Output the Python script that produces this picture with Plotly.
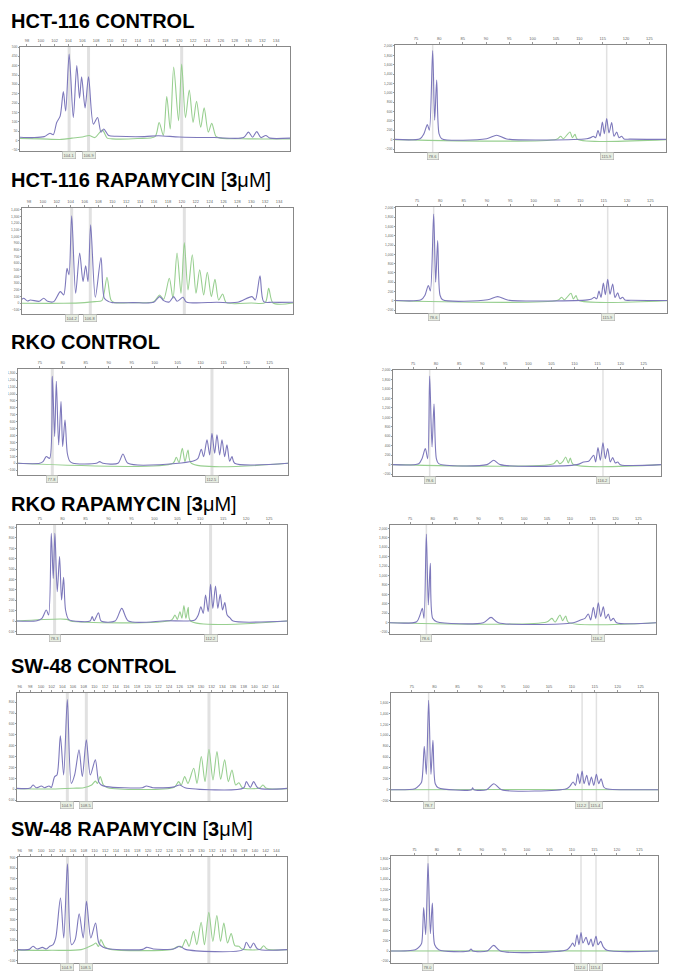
import plotly.graph_objects as go

# ---------------- DATA ----------------
titles = ["HCT-116 CONTROL", "HCT-116 RAPAMYCIN [3μM]", "RKO CONTROL",
          "RKO RAPAMYCIN [3μM]", "SW-48 CONTROL", "SW-48 RAPAMYCIN [3μM]"]

# x tick label sets
ticks_hct_x = list(range(98, 135, 2))
ticks_rko_x = [75, 80, 85, 90, 95, 100, 105, 110, 115, 120, 125]
ticks_sw_x = list(range(96, 145, 2))

# ---- Row 1 left: HCT-116 control ----
r1L_purple_x = [97, 99, 100.5, 101.33, 101.8, 102.3, 102.8, 103.26, 103.6, 104.1, 104.7, 105.2, 105.6, 105.9,
                106.4, 106.9, 107.6, 108.2, 108.7, 109.1, 109.8, 111, 115, 117, 120, 125, 129.3, 130.0, 130.6,
                131.2, 131.8, 132.5, 133.1, 136]
r1L_purple_y = [17, 15, 20, 38, 30, 96, 130, 261, 157, 462, 122, 400, 226, 340, 174, 340, 87, 122, 44, 61, 26,
                22, 20, 25, 18, 15, 15, 44, 17, 47, 15, 26, 12, 12]
r1L_green_x = [97, 100, 103, 104.5, 106, 107, 107.8, 108.9, 109.6, 110.3, 114, 116.5, 117.1, 117.7, 118.2, 118.7,
               119.2, 119.9, 120.35, 120.9, 121.45, 122.0, 122.5, 123.1, 123.6, 124.2, 124.7, 125.3, 125.9, 130, 136]
r1L_green_y = [10, 8, 5, 12, 18, 26, 15, 55, 12, 8, 10, 20, 96, 26, 235, 61, 392, 105, 409, 122, 270, 96, 209,
               70, 174, 44, 91, 21, 12, 8, 8]
r1L_markers = [104.1, 106.9, 120.35]
r1L_boxed = [104.1, 106.9]

# ---- Row 1 right ----
r1R_purple_x = [70.5, 75.86, 76.71, 77.43, 77.86, 78.57, 79.0, 79.43, 79.93, 80.5, 90.14, 92.29, 94.43, 111.57,
                112.43, 113.0, 113.5, 114.0, 114.43, 114.93, 115.36, 115.86, 116.36, 116.93, 117.43, 118.0, 118.5,
                119.07, 119.57, 120.86, 128.57]
r1R_purple_y = [5, 20, 128, 321, 200, 1900, 414, 1271, 128, 20, 20, 93, 15, 20, 43, 71, 43, 200, 71, 378, 129,
                450, 143, 364, 71, 164, 43, 71, 15, 10, 5]
r1R_green_x = [70.5, 105.14, 106.0, 106.57, 108.0, 108.5, 109.07, 109.57, 128.57]
r1R_green_y = [0, 10, 71, 20, 164, 40, 114, 10, 0]
r1R_markers = [78.57, 115.86]

# ---- Row 2 left: HCT-116 rapamycin ----
r2L_purple_x = [97, 97.24, 97.8, 98.2, 99.5, 100.12, 100.7, 101.56, 102.52, 103.0, 103.48, 103.76, 104.15, 104.72,
                105.3, 105.78, 106.16, 106.5, 106.88, 107.55, 108.37, 108.85, 109.47, 110, 113, 115.95, 116.81,
                117.39, 118.2, 118.83, 119.31, 120.17, 120.65, 125, 128, 130.1, 130.58, 131.25, 131.78, 133, 136]
r2L_purple_y = [60, 75, 35, 50, 30, 75, 30, 25, 175, 125, 525, 425, 1310, 150, 750, 325, 560, 325, 1175, 90, 685,
                75, 25, 10, 10, 15, 100, 40, 20, 100, 30, 90, 20, 15, 15, 100, 50, 410, 25, 15, 15]
r2L_green_x = [97, 103, 106, 107.5, 108.5, 109.23, 109.8, 110.3, 113, 115.95, 116.81, 117.39, 118.2, 118.73,
               119.31, 119.88, 120.36, 120.89, 121.51, 122.04, 122.57, 123.14, 123.67, 124.25, 124.77, 125.3,
               125.88, 126.41, 130, 132.0, 132.5, 133.12, 136]
r2L_green_y = [0, 0, 10, 25, 40, 390, 50, 10, 10, 25, 125, 60, 375, 75, 750, 150, 910, 200, 725, 150, 500, 125,
               465, 100, 360, 50, 140, 10, 5, 10, 225, 5, 5]
r2L_markers = [104.15, 106.83, 120.36]
r2L_boxed = [104.15, 106.83]

# ---- Row 2 right ----
r2R_purple_x = [70.5, 75.86, 76.71, 77.43, 77.86, 78.57, 79.0, 79.43, 79.93, 80.5, 90.14, 92.29, 94.43, 111.57,
                112.43, 113.0, 113.5, 114.0, 114.43, 114.93, 115.36, 115.86, 116.36, 116.93, 117.43, 118.0, 118.5,
                119.07, 119.57, 120.86, 128.57]
r2R_purple_y = [5, 20, 120, 330, 210, 1870, 400, 1300, 120, 20, 20, 90, 15, 20, 40, 75, 43, 210, 71, 380, 130,
                460, 140, 360, 71, 170, 43, 75, 15, 10, 5]
r2R_green_x = [70.5, 105.14, 106.0, 106.57, 108.0, 108.5, 109.07, 109.57, 128.57]
r2R_green_y = [0, 10, 75, 20, 160, 40, 110, 10, 0]
r2R_markers = [78.57, 115.86]

# ---- Row 3 left: RKO control ----
r3L_purple_x = [70.29, 75, 75.72, 76.45, 77.17, 77.75, 78.26, 78.62, 79.13, 79.64, 80.0, 80.51, 81.01, 81.52,
                82.25, 87.32, 88.04, 88.77, 92.03, 93.12, 94.2, 105.8, 108.7, 109.42, 110.14, 110.65, 111.38,
                111.96, 112.46, 113.04, 113.55, 114.13, 114.64, 115.22, 115.72, 116.3, 116.81, 117.39, 128.99]
r3L_purple_y = [0, 0, 24, 97, 72, 1255, 386, 1183, 266, 893, 241, 628, 145, 34, 0, 0, 24, 0, 0, 135, 0, 5, 39,
                72, 203, 97, 338, 121, 435, 145, 410, 121, 338, 97, 266, 30, 97, 0, 0]
r3L_green_x = [70.29, 103.99, 104.71, 105.29, 106.01, 106.59, 107.25, 107.97, 128.99]
r3L_green_y = [0, 0, 87, 10, 217, 24, 193, 0, 0]
r3L_markers = [77.75, 112.46]

# ---- Row 3 right ----
r3R_purple_x = [70.66, 76.23, 76.95, 77.67, 78.18, 78.61, 79.12, 79.55, 80.06, 80.56, 91.04, 92.49, 93.93,
                110.55, 111.99, 113.08, 114.16, 114.6, 115.1, 115.61, 116.18, 116.69, 117.2, 117.77, 118.28,
                118.86, 119.36, 119.94, 128.76]
r3R_purple_y = [0, 21, 127, 339, 127, 1873, 375, 1280, 127, 21, 0, 92, 0, 0, 57, 71, 198, 57, 361, 92, 460, 127,
                339, 57, 148, 35, 57, 0, 0]
r3R_green_x = [70.66, 105.49, 106.21, 106.79, 107.51, 108.09, 108.67, 109.1, 109.68, 128.76]
r3R_green_y = [0, 21, 92, 21, 71, 163, 35, 141, 7, 0]
r3R_markers = [78.61, 116.18]

# ---- Row 4 left: RKO rapamycin ----
r4L_purple_x = [70.07, 74.42, 75.51, 76.45, 76.96, 77.54, 77.97, 78.33, 78.84, 79.35, 79.78, 80.22, 80.65, 81.3,
                82.03, 86.01, 86.45, 86.88, 87.83, 88.41, 91.45, 92.9, 94.35, 102.68, 108.84, 109.57, 110.14,
                110.65, 111.16, 111.74, 112.25, 112.75, 113.33, 113.84, 114.35, 114.86, 115.36, 115.87, 116.45,
                117.17, 128.91]
r4L_purple_y = [0, 3, 26, 106, 58, 844, 411, 844, 282, 620, 202, 421, 106, 16, 3, 0, 42, 3, 80, 0, 0, 122, 0, 3,
                10, 58, 138, 74, 250, 90, 353, 122, 337, 122, 257, 106, 177, 58, 32, 0, 0]
r4L_green_x = [70.07, 80.94, 81.67, 103.77, 104.49, 105.0, 105.58, 106.01, 106.45, 106.88, 107.39, 107.9, 128.91]
r4L_green_y = [0, 16, 0, 10, 58, 16, 90, 26, 148, 26, 132, 0, 0]
r4L_markers = [78.26, 112.25]

# ---- Row 4 right ----
r4R_purple_x = [70.62, 76.46, 77.19, 77.7, 78.07, 78.58, 79.01, 79.45, 79.96, 80.84, 91.06, 92.74, 94.34, 110.77,
                112.37, 113.32, 114.05, 114.56, 115.15, 115.66, 116.24, 116.75, 117.34, 117.85, 118.43, 118.94,
                119.53, 120.26, 128.87]
r4R_purple_y = [0, 21, 163, 304, 92, 1880, 375, 1258, 92, 21, 0, 113, 0, 0, 57, 92, 184, 57, 325, 92, 424, 127,
                339, 92, 184, 42, 92, 0, 0]
r4R_green_x = [70.62, 104.93, 106.09, 106.75, 107.85, 108.43, 109.09, 109.67, 128.87]
r4R_green_y = [0, 14, 92, 14, 163, 42, 141, 7, 0]
r4R_markers = [78.58, 116.24]

# ---- Row 5 left: SW-48 control ----
r5L_purple_x = [95.5, 98.0, 98.5, 99.13, 100.06, 100.69, 101.5, 101.94, 102.56, 103.0, 103.63, 104.25, 104.94,
                105.69, 106.31, 107.13, 107.75, 108.5, 109.25, 110.19, 110.81, 111.31, 112.25, 119.0, 119.75,
                121.0, 124.75, 126.0, 127.0, 138.0, 138.5, 139.25, 139.88, 140.69, 146.13]
r5L_purple_y = [9, 12, 40, 15, 30, 15, 30, 18, 117, 132, 491, 132, 823, 55, 132, 362, 117, 454, 132, 270, 71, 40,
                25, 15, 30, 15, 20, 40, 15, 12, 71, 18, 71, 12, 9]
r5L_green_x = [95.5, 102, 106, 108.0, 109.5, 110.19, 110.6, 111.1, 111.7, 112.5, 125.0, 125.8, 126.31, 126.94,
               127.56, 128.63, 129.25, 130.06, 130.75, 131.5, 132.25, 133.0, 133.69, 134.44, 135.13, 135.81,
               136.5, 137.13, 137.75, 141.0, 141.63, 142.25, 146.13]
r5L_green_y = [5, 3, 10, 15, 40, 75, 55, 117, 40, 15, 20, 71, 40, 117, 55, 193, 55, 301, 71, 368, 86, 347, 92,
               270, 71, 178, 40, 61, 15, 12, 40, 10, 5]
r5L_markers = [104.94, 108.5, 131.5]
r5L_boxed = [104.94, 108.5]

# ---- Row 5 right ----
r5R_purple_x = [70.49, 75.73, 76.67, 77.18, 77.76, 78.2, 78.71, 79.22, 79.65, 80.16, 80.82, 88.09, 88.31, 88.6,
                91.36, 92.96, 94.64, 108.82, 109.55, 110.27, 110.78, 111.29, 111.73, 112.24, 112.67, 113.25,
                113.76, 114.27, 114.78, 115.36, 115.87, 116.38, 116.96, 117.55, 128.82]
r5R_purple_y = [0, 18, 80, 141, 797, 282, 1643, 282, 907, 110, 37, 0, 37, 0, 0, 110, 0, 18, 61, 141, 80, 294,
                110, 343, 110, 264, 80, 233, 80, 282, 110, 202, 49, 18, 0]
r5R_green_x = [70.49, 100, 128.82]
r5R_green_y = [0, 3, 0]
r5R_markers = [78.71, 112.24, 115.36]

# ---- Row 6 left: SW-48 rapamycin ----
r6L_purple_x = [95.69, 97.8, 98.5, 99.25, 100.25, 101.0, 101.63, 102.25, 102.75, 103.63, 104.25, 104.94, 105.69,
                106.38, 107.13, 107.88, 108.5, 109.31, 110.19, 110.81, 111.63, 112.88, 119.0, 119.75, 121.0,
                124.75, 126.0, 127.0, 137.8, 138.38, 139.13, 139.75, 140.5, 146.0]
r6L_purple_y = [10, 12, 42, 16, 32, 16, 42, 58, 123, 510, 123, 843, 58, 107, 358, 123, 478, 123, 268, 74, 32, 16,
                12, 32, 16, 16, 42, 12, 10, 81, 26, 74, 16, 10]
r6L_green_x = [95.69, 102, 107.5, 109.75, 110.25, 110.75, 111.19, 111.94, 113, 124.5, 125.69, 126.31, 127.06,
               127.69, 128.5, 129.13, 129.94, 130.56, 131.38, 132.13, 132.88, 133.56, 134.19, 134.88, 135.56,
               136.25, 137.0, 137.56, 141.0, 141.63, 142.25, 146.0]
r6L_green_y = [5, 3, 10, 58, 74, 40, 107, 35, 12, 12, 42, 30, 107, 42, 187, 58, 275, 58, 371, 90, 339, 90, 268,
               74, 165, 48, 42, 16, 14, 48, 16, 8]
r6L_markers = [104.94, 108.5, 131.38]
r6L_boxed = [104.94, 108.5]

# ---- Row 6 right ----
r6R_purple_x = [69.81, 75.22, 76.19, 76.63, 77.07, 77.52, 78.04, 78.56, 79.0, 79.52, 80.41, 87.07, 87.59, 88.04,
                91.15, 92.63, 94.11, 108.93, 109.67, 110.19, 110.63, 111.15, 111.59, 112.04, 112.48, 113.15,
                113.74, 114.26, 114.7, 115.37, 115.81, 116.41, 117.0, 117.81, 129.15]
r6R_purple_y = [0, 26, 90, 155, 848, 317, 1708, 336, 932, 123, 26, 0, 39, 0, 0, 110, 0, 26, 90, 155, 90, 317,
                123, 362, 155, 265, 123, 233, 90, 285, 123, 188, 78, 13, 0]
r6R_green_x = [69.81, 100, 129.15]
r6R_green_y = [0, 3, 0]
r6R_markers = [78.04, 112.04, 115.37]

# ---------------- LAYOUT / STYLE ----------------
W, H = 680, 980
OFF = 8  # default page body margin shifts the figure by this many pixels
PURPLE = "#7d78bb"
GREEN = "#98cf90"


def fx(px):
    return (px - OFF) / W


def fy(py):
    return 1 - (py - OFF) / H


panels = [
    dict(px=r1L_purple_x, py=r1L_purple_y, gx=r1L_green_x, gy=r1L_green_y, mk=r1L_markers, bx=r1L_boxed,
         box=(20, 290, 47, 151), xr=[97, 136], xt=ticks_hct_x, yr=[-57, 500], yt=(-50, 500, 50), wide=True),
    dict(px=r1R_purple_x, py=r1R_purple_y, gx=r1R_green_x, gy=r1R_green_y, mk=r1R_markers, bx=r1R_markers,
         box=(395, 666, 45, 152), xr=[70.5, 128.57], xt=ticks_rko_x, yr=[-264, 2021], yt=(-200, 2000, 200), wide=False),
    dict(px=r2L_purple_x, py=r2L_purple_y, gx=r2L_green_x, gy=r2L_green_y, mk=r2L_markers, bx=r2L_boxed,
         box=(22, 293, 208, 314), xr=[97, 136], xt=ticks_hct_x, yr=[-160, 1425], yt=(-100, 1400, 100), wide=True),
    dict(px=r2R_purple_x, py=r2R_purple_y, gx=r2R_green_x, gy=r2R_green_y, mk=r2R_markers, bx=r2R_markers,
         box=(396, 667, 207, 313), xr=[70.5, 128.57], xt=ticks_rko_x, yr=[-264, 2021], yt=(-200, 2000, 200), wide=False),
    dict(px=r3L_purple_x, py=r3L_purple_y, gx=r3L_green_x, gy=r3L_green_y, mk=r3L_markers, bx=r3L_markers,
         box=(18, 288, 369, 475), xr=[70.29, 128.99], xt=ticks_rko_x, yr=[-169, 1362], yt=(-100, 1300, 100), wide=True),
    dict(px=r3R_purple_x, py=r3R_purple_y, gx=r3R_green_x, gy=r3R_green_y, mk=r3R_markers, bx=r3R_markers,
         box=(393, 661, 370, 476), xr=[70.66, 128.76], xt=ticks_rko_x, yr=[-240, 2001], yt=(-200, 2000, 200), wide=False),
    dict(px=r4L_purple_x, py=r4L_purple_y, gx=r4L_green_x, gy=r4L_green_y, mk=r4L_markers, bx=r4L_markers,
         box=(17, 287, 525, 634), xr=[70.07, 128.91], xt=ticks_rko_x, yr=[-125, 925], yt=(-100, 900, 100), wide=True),
    dict(px=r4R_purple_x, py=r4R_purple_y, gx=r4R_green_x, gy=r4R_green_y, mk=r4R_markers, bx=r4R_markers,
         box=(390, 656, 525, 634), xr=[70.62, 128.87], xt=ticks_rko_x, yr=[-240, 2071], yt=(-200, 2000, 200), wide=False),
    dict(px=r5L_purple_x, py=r5L_purple_y, gx=r5L_green_x, gy=r5L_green_y, mk=r5L_markers, bx=r5L_boxed,
         box=(17, 287, 693, 801), xr=[95.5, 146.13], xt=ticks_sw_x, yr=[-107, 884], yt=(-100, 800, 100), wide=True),
    dict(px=r5R_purple_x, py=r5R_purple_y, gx=r5R_green_x, gy=r5R_green_y, mk=r5R_markers, bx=r5R_markers,
         box=(391, 658, 693, 801), xr=[70.49, 128.82], xt=ticks_rko_x, yr=[-208, 1778], yt=(-200, 1600, 200), wide=False),
    dict(px=r6L_purple_x, py=r6L_purple_y, gx=r6L_green_x, gy=r6L_green_y, mk=r6L_markers, bx=r6L_boxed,
         box=(18, 287, 857, 963), xr=[95.69, 146.0], xt=ticks_sw_x, yr=[-120, 908], yt=(-100, 900, 100), wide=True),
    dict(px=r6R_purple_x, py=r6R_purple_y, gx=r6R_green_x, gy=r6R_green_y, mk=r6R_markers, bx=r6R_markers,
         box=(391, 658, 856, 963), xr=[69.81, 129.15], xt=ticks_rko_x, yr=[-233, 1850], yt=(-200, 1800, 200), wide=False),
]

title_y_px = [21, 180, 342, 504, 666, 829]

fig = go.Figure()
layout = dict(width=W, height=H, margin=dict(l=0, r=0, t=0, b=0, autoexpand=False),
              paper_bgcolor="white", plot_bgcolor="white", showlegend=False)
shapes = []
annotations = []

for i, p in enumerate(panels):
    n = i + 1
    xa = "x" if n == 1 else f"x{n}"
    ya = "y" if n == 1 else f"y{n}"
    xkey = "xaxis" if n == 1 else f"xaxis{n}"
    ykey = "yaxis" if n == 1 else f"yaxis{n}"
    l, r, t, b = p["box"]
    lo, hi, st = p["yt"]
    ytv = list(range(lo, hi + 1, st))
    layout[xkey] = dict(domain=[fx(l), fx(r)], range=p["xr"], anchor=ya, side="top", automargin=False,
                        tickvals=p["xt"], ticks="outside", ticklen=2, tickcolor="#999",
                        tickfont=dict(size=4, color="#666", family="Arial"), showgrid=False,
                        zeroline=False, showline=True, linecolor="#888", linewidth=1, mirror=True)
    layout[ykey] = dict(domain=[fy(b), fy(t)], range=p["yr"], anchor=xa, automargin=False,
                        tickvals=ytv, tickformat=",d", ticks="outside", ticklen=1, tickcolor="#999",
                        tickfont=dict(size=3.3, color="#666", family="Arial"), showgrid=False,
                        zeroline=False, showline=True, linecolor="#888", linewidth=1, mirror=True)
    for m in p["mk"]:
        shapes.append(dict(type="line", xref=xa, yref=f"{ya} domain", x0=m, x1=m, y0=0, y1=1,
                           line=dict(color="rgba(170,170,170,0.35)", width=3 if p["wide"] else 1.5),
                           layer="below"))
    for m in p["bx"]:
        annotations.append(dict(x=m, xref=xa, y=fy(b + 4), yref="paper", yanchor="middle",
                                text=f"{m:.1f}", showarrow=False,
                                font=dict(size=4, color="#666", family="Arial"),
                                bgcolor="#e8eee2", bordercolor="#aaa", borderwidth=0.6, borderpad=1))
    fig.add_trace(go.Scatter(x=p["gx"], y=p["gy"], mode="lines", xaxis=xa, yaxis=ya,
                             line=dict(color=GREEN, width=1.1, shape="spline", smoothing=0.8),
                             hoverinfo="skip"))
    fig.add_trace(go.Scatter(x=p["px"], y=p["py"], mode="lines", xaxis=xa, yaxis=ya,
                             line=dict(color=PURPLE, width=1.1, shape="spline", smoothing=0.8),
                             hoverinfo="skip"))

for k, (txt, ty) in enumerate(zip(titles, title_y_px)):
    if "[3μM]" in txt:
        base = txt.replace(" [3μM]", "")
        html = f"<b>{base} </b>[<b>3</b>μM]"
    else:
        html = f"<b>{txt}</b>"
    annotations.append(dict(x=fx(10), y=fy(ty), xref="paper", yref="paper", xanchor="left",
                            yanchor="middle", text=html, showarrow=False, borderpad=0,
                            font=dict(size=20, color="black", family="Liberation Sans, Arial")))

layout["shapes"] = shapes
layout["annotations"] = annotations
fig.update_layout(**layout)
fig.write_html("out.html")
